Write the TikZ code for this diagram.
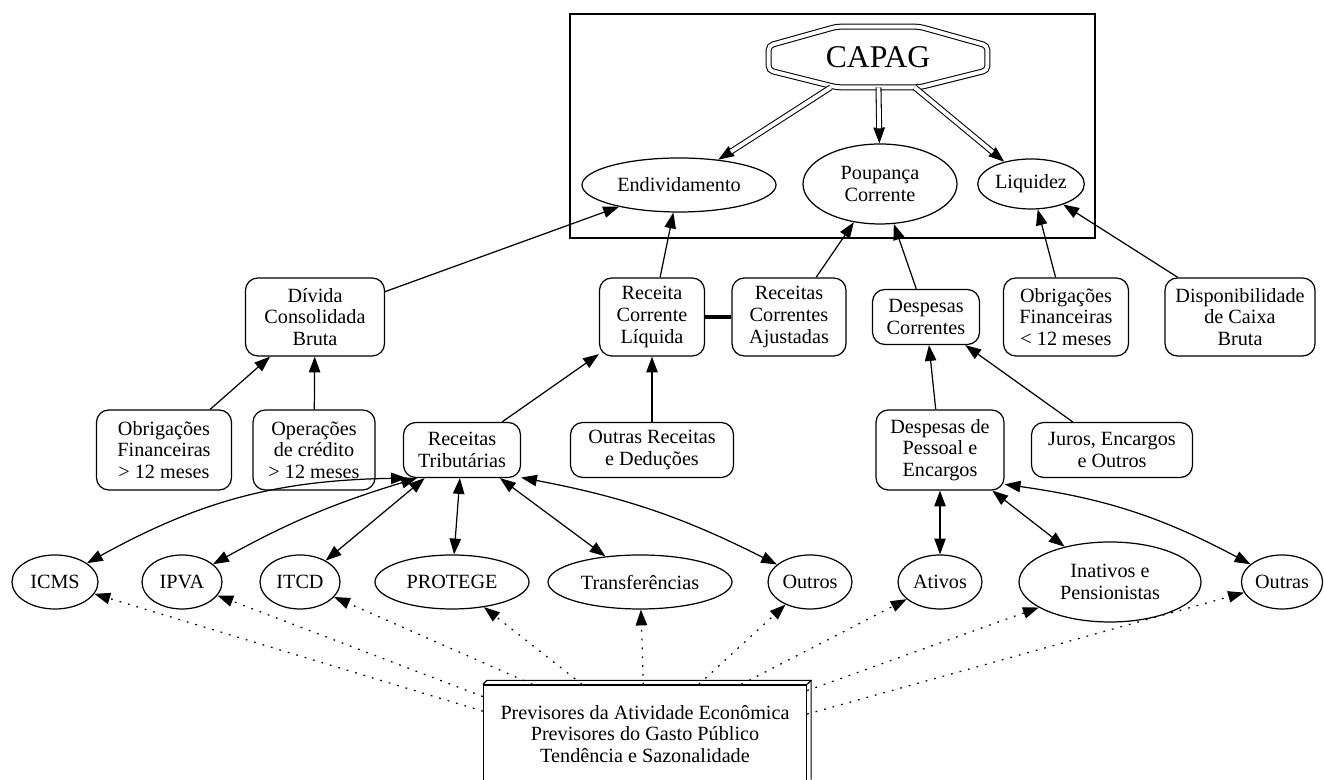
\documentclass[tikz,border=0pt]{standalone}
\usepackage{fontspec}
\setmainfont{Liberation Serif}
\usetikzlibrary{shapes.geometric,arrows.meta}

\begin{document}
\begin{tikzpicture}[
        font=\fontsize{11.5}{12.3}\selectfont,
        box/.style={rectangle, rounded corners=7pt, draw, align=center, inner sep=1pt, line width=0.7pt},
        oval/.style={ellipse, draw, align=center, inner sep=1pt, line width=0.7pt},
        arrow/.style={-{Triangle[length=9pt,width=6.5pt]}, line width=0.7pt},
        twoway/.style={{Triangle[length=9pt,width=6.5pt]}-{Triangle[length=9pt,width=6.5pt]}, line width=0.7pt},
        dots/.style={arrow, dash pattern=on 1pt off 4pt},
        twin/.style={double, double distance=2.2pt, line width=0.6pt, shorten >=8.5pt}
    ]
        \clip (0,0) rectangle (26.48,15.6);

        % indicador
        \draw[line width=0.7pt] (11.4,15.32) rectangle (21.9,10.84);
        \node[minimum width=4.36cm, minimum height=1.2cm, font=\fontsize{18}{20}\selectfont] (capag) at (17.56,14.46) {CAPAG};
        \draw[double, double distance=2.2pt, line width=0.6pt, rounded corners=2.5pt]
            ([xshift=1.36cm]capag.north west) -- ([xshift=-1.36cm]capag.north east)
            -- ([yshift=-0.38cm]capag.north east) -- ([yshift=0.34cm]capag.south east)
            -- ([xshift=-1.36cm]capag.south east) -- ([xshift=1.36cm]capag.south west)
            -- ([yshift=0.34cm]capag.south west) -- ([yshift=-0.38cm]capag.north west) -- cycle;
        \node[oval, minimum width=3.88cm, minimum height=1.08cm] (endiv) at (13.58,11.90) {Endividamento};
        \node[oval, minimum width=3.08cm, minimum height=1.6cm] (poup) at (17.60,11.92) {Poupança\\Corrente};
        \node[oval, minimum width=1.94cm, minimum height=1.0cm] (liq) at (20.62,11.92) {Liquidez};

        % componentes
        \node[box, minimum width=2.78cm, minimum height=1.56cm] (divida) at (6.30,9.26) {Dívida\\Consolidada\\Bruta};
        \node[box, minimum width=2.1cm, minimum height=1.56cm] (rcl) at (13.04,9.26) {Receita\\Corrente\\Líquida};
        \node[box, minimum width=2.28cm, minimum height=1.56cm] (rca) at (15.78,9.26) {Receitas\\Correntes\\Ajustadas};
        \node[box, minimum width=2.14cm, minimum height=1.1cm] (despcor) at (18.52,9.26) {Despesas\\Correntes};
        \node[box, minimum width=2.5cm, minimum height=1.56cm] (obrigcurta) at (21.32,9.26) {Obrigações\\Financeiras\\< 12 meses};
        \node[box, minimum width=3.0cm, minimum height=1.56cm] (disp) at (24.80,9.26) {Disponibilidade\\de Caixa\\Bruta};

        \node[box, minimum width=2.7cm, minimum height=1.6cm] (obriglonga) at (3.28,6.60) {Obrigações\\Financeiras\\> 12 meses};
        \node[box, minimum width=2.44cm, minimum height=1.6cm] (opcred) at (6.28,6.60) {Operações\\de crédito\\> 12 meses};
        \node[box, minimum width=2.34cm, minimum height=1.1cm] (trib) at (9.24,6.60) {Receitas\\Tributárias};
        \node[box, minimum width=3.26cm, minimum height=1.1cm] (outrasrec) at (13.04,6.60) {Outras Receitas\\e Deduções};
        \node[box, minimum width=2.56cm, minimum height=1.6cm] (pessoal) at (18.80,6.60) {Despesas de\\Pessoal e\\Encargos};
        \node[box, minimum width=3.22cm, minimum height=1.1cm] (juros) at (22.24,6.60) {Juros, Encargos\\e Outros};

        % series
        \node[oval, minimum width=1.72cm, minimum height=1.08cm] (icms) at (1.10,3.96) {ICMS};
        \node[oval, minimum width=1.6cm, minimum height=1.08cm] (ipva) at (3.64,3.96) {IPVA};
        \node[oval, minimum width=1.6cm, minimum height=1.08cm] (itcd) at (6.00,3.96) {ITCD};
        \node[oval, minimum width=3.08cm, minimum height=1.08cm] (protege) at (9.04,3.96) {PROTEGE};
        \node[oval, minimum width=3.68cm, minimum height=1.08cm] (transf) at (12.80,3.96) {Transferências};
        \node[oval, minimum width=1.68cm, minimum height=1.08cm] (outros) at (16.20,3.96) {Outros};
        \node[oval, minimum width=1.68cm, minimum height=1.08cm] (ativos) at (18.80,3.96) {Ativos};
        \node[oval, minimum width=3.64cm, minimum height=1.6cm] (inativos) at (22.20,3.96) {Inativos e\\Pensionistas};
        \node[oval, minimum width=1.6cm, minimum height=1.08cm] (outras) at (25.64,3.96) {Outras};

        \node[rectangle, draw, line width=0.7pt, align=center, minimum width=6.46cm, minimum height=1.96cm] (prev) at (12.90,0.92)
            {Previsores da Atividade Econômica\\Previsores do Gasto Público\\Tendência e Sazonalidade};
        \draw[line width=0.7pt] (prev.north west) -- ++(0.08,0.08) -| ([shift={(0.08,0.08)}]prev.south east);
        \draw[line width=0.7pt] (prev.north east) -- ++(0.08,0.08);

        % ligacoes
        \foreach \dst in {endiv, poup, liq} {
            \draw[arrow] (capag) -- (\dst);
            \draw[twin] (capag) -- (\dst);
        }
        \draw[arrow] (divida) -- (endiv);
        \draw[arrow] (rcl) -- (endiv);
        \draw[arrow] (rca) -- (poup);
        \draw[arrow] (despcor) -- (poup);
        \draw[line width=1.8pt] (rcl) -- (rca);
        \draw[arrow] (obrigcurta) -- (liq);
        \draw[arrow] (disp) -- (liq);

        \draw[arrow] (obriglonga) -- (divida);
        \draw[arrow] (opcred) -- (divida);
        \draw[arrow] (trib) -- (rcl);
        \draw[arrow] (outrasrec) -- (rcl);
        \draw[arrow] (pessoal) -- (despcor);
        \draw[arrow] (juros) -- (despcor);

        \draw[twoway] (trib.207) to[bend right=14] (icms);
        \draw[twoway] (trib.212) to[bend right=6] (ipva);
        \draw[twoway] (trib.217) -- (itcd);
        \draw[twoway] (trib) -- (protege);
        \draw[twoway] (trib) -- (transf);
        \draw[twoway] (trib.-25) to[bend left=8] (outros);
        \draw[twoway] (pessoal) -- (ativos);
        \draw[twoway] (pessoal) -- (inativos);
        \draw[twoway] (pessoal.-28) to[bend left=10] (outras);

        \draw[dots] (prev.172) -- (icms);
        \draw[dots] (prev.167) -- (ipva);
        \foreach \dst in {itcd, protege, transf, outros, ativos}
            \draw[dots] (prev) -- (\dst);
        \draw[dots] (prev.15) -- (inativos);
        \draw[dots] (prev.7) -- (outras);
    \end{tikzpicture}
\end{document}
